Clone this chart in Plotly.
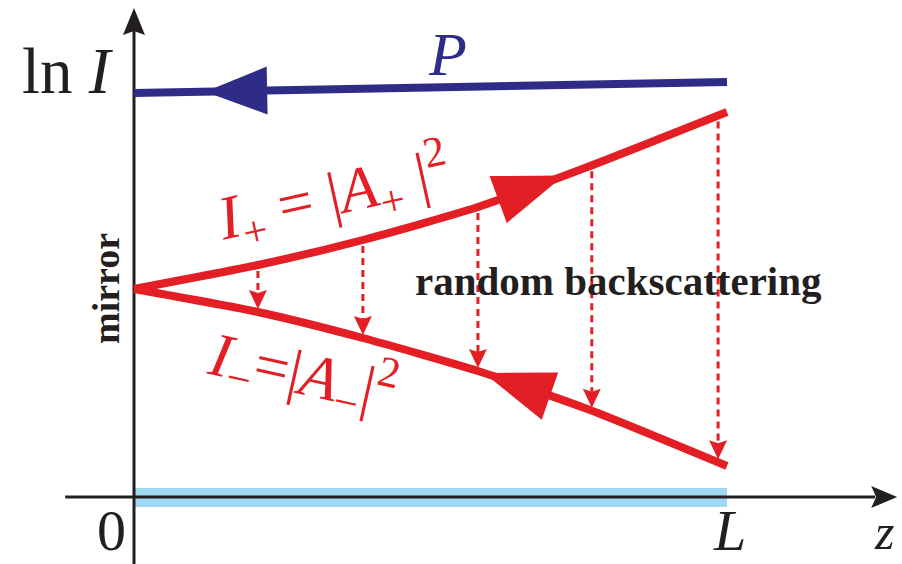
import numpy as np
import plotly.graph_objects as go

W, H = 902, 564

# ln I of the two Stokes waves, read at positions along the fibre (z / L)
z_pts = [0.0, 0.209, 0.386, 0.580, 0.769, 1.0]
ln_I_forward = [2.08, 2.32, 2.57, 2.90, 3.31, 3.85]    # I+ = |A+|^2
ln_I_backward = [2.08, 1.85, 1.59, 1.26, 0.87, 0.31]   # I- = |A-|^2

# pump wave P
pump_z = [0.0, 1.0]
pump_ln_I = [4.04, 4.15]

# where the random backscattering arrows sit
backscatter_z = [0.209, 0.386, 0.580, 0.772, 0.985]

# fibre span along z
fiber_start, fiber_length = 0.0, 1.0

# axis extents
z_axis_start, z_axis_tip = -0.116, 1.287
lnI_axis_bottom, lnI_axis_tip = -0.67, 4.89

# direction arrows on the waves (tip z, back z)
pump_arrow = (0.120, 0.225)
forward_arrow = (0.725, 0.612)
backward_arrow = (0.590, 0.701)

RED = "#e31e24"
NAVY = "#2e2c87"
FIBRE = "#a0d8f4"
INK = "#231f20"
SERIF = "Liberation Serif"

# data window -> pixels
X0, X1 = -134 / 593, 768 / 593
Y0, Y1 = -0.67, 4.97


def to_px(x, y):
    return (x - X0) / (X1 - X0) * W, H - (y - Y0) / (Y1 - Y0) * H


def to_data(px, py):
    return X0 + px / W * (X1 - X0), Y0 + (H - py) / H * (Y1 - Y0)


def head(tip, back, length, half_w, notch=0.0):
    """Filled arrowhead polygon with its tip at `tip`, pointing away from `back`."""
    t = np.array(to_px(*tip))
    b = np.array(to_px(*back))
    d = (t - b) / np.hypot(*(t - b))
    n = np.array([-d[1], d[0]])
    base = t - d * length
    pts = [t, base + n * half_w, base + d * notch, base - n * half_w, t]
    xs, ys = zip(*[to_data(*p) for p in pts])
    return list(xs), list(ys)


def on_curve(z, curve):
    return float(np.interp(z, z_pts, curve))


fig = go.Figure()


def add_fill(xs, ys, color):
    fig.add_trace(go.Scatter(x=xs, y=ys, mode="lines", fill="toself",
                             fillcolor=color, line=dict(color=color, width=0),
                             hoverinfo="skip"))


# horizontal z axis
zx_base = to_data(to_px(z_axis_tip, 0)[0] - 22, 0)[0]
fig.add_trace(go.Scatter(x=[z_axis_start, zx_base], y=[0, 0], mode="lines",
                         line=dict(color=INK, width=3), hoverinfo="skip"))
add_fill(*head((z_axis_tip, 0), (0, 0), 26, 11, 5), INK)

# fibre
fig.add_trace(go.Bar(x=[fiber_length], base=[fiber_start], y=[0], orientation="h",
                     width=0.19, marker=dict(color=FIBRE, line=dict(width=0)),
                     hoverinfo="skip"))

# vertical ln I axis
ly_base = to_data(0, to_px(0, lnI_axis_tip)[1] + 22)[1]
fig.add_trace(go.Scatter(x=[0, 0], y=[lnI_axis_bottom, ly_base], mode="lines",
                         line=dict(color=INK, width=3), hoverinfo="skip"))
add_fill(*head((0, lnI_axis_tip), (0, 0), 27, 11, 4), INK)

# pump
fig.add_trace(go.Scatter(x=pump_z, y=pump_ln_I, mode="lines",
                         line=dict(color=NAVY, width=8), hoverinfo="skip"))
pt, pb = pump_arrow
add_fill(*head((pt, float(np.interp(pt, pump_z, pump_ln_I))),
               (pb, float(np.interp(pb, pump_z, pump_ln_I))), 62, 24), NAVY)

# backscattering arrows from I+ down to I-
for z in backscatter_z:
    up_px = to_px(z, on_curve(z, ln_I_forward))[1]
    lo_px = to_px(z, on_curve(z, ln_I_backward))[1]
    start = to_data(0, up_px + 6)[1]
    tip = to_data(0, lo_px - 3)[1]
    head_base = to_data(0, lo_px - 3 - 16)[1]
    fig.add_trace(go.Scatter(x=[z, z], y=[start, head_base], mode="lines",
                             line=dict(color=RED, width=3, dash="7px,5px"),
                             hoverinfo="skip"))
    add_fill(*head((z, tip), (z, start), 19, 9, 3), RED)

# Stokes waves
for curve in (ln_I_forward, ln_I_backward):
    fig.add_trace(go.Scatter(x=z_pts, y=curve, mode="lines",
                             line=dict(color=RED, width=8, shape="spline", smoothing=0.6),
                             hoverinfo="skip"))
ft, fb = forward_arrow
add_fill(*head((ft, on_curve(ft, ln_I_forward)), (fb, on_curve(fb, ln_I_forward)), 70, 25), RED)
bt, bb = backward_arrow
add_fill(*head((bt, on_curve(bt, ln_I_backward)), (bb, on_curve(bb, ln_I_backward)), 70, 25), RED)


def label(px, py, text, size, color=INK, angle=0, yanchor="middle"):
    x, y = to_data(px, py)
    fig.add_annotation(x=x, y=y, xref="x", yref="y", text=text, showarrow=False,
                       textangle=angle, xanchor="center", yanchor=yanchor,
                       borderpad=0, borderwidth=0,
                       font=dict(family=SERIF, size=size, color=color))


label(68, 71, "ln <i>I</i>", 65)
label(447, 54, "<i>P</i>", 62, NAVY)
label(111, 563, "0", 58, yanchor="bottom")
label(729, 563, "<i>L</i>", 58, yanchor="bottom")
label(884, 532, "<i>z</i>", 50)
label(106, 289, "<b>mirror</b>", 38, angle=-90)
label(618, 281, "<b>random backscattering</b>", 41)
label(333, 193,
      "<i>I</i><sub>+</sub>&nbsp;=&nbsp;|<i>A</i><sub>+</sub>&nbsp;|<sup>2</sup>",
      62, RED, -12.5)
label(303, 372, "<i>I</i><sub>−</sub>=|<i>A</i><sub>−</sub>|<sup>2</sup>", 62, RED, 12.5)

fig.update_layout(
    width=W, height=H, margin=dict(l=0, r=0, t=0, b=0),
    paper_bgcolor="white", plot_bgcolor="white", showlegend=False,
    xaxis=dict(range=[X0, X1], visible=False, fixedrange=True),
    yaxis=dict(range=[Y0, Y1], visible=False, fixedrange=True),
    bargap=0,
)

fig.write_html("out.html", config={"displayModeBar": False})
